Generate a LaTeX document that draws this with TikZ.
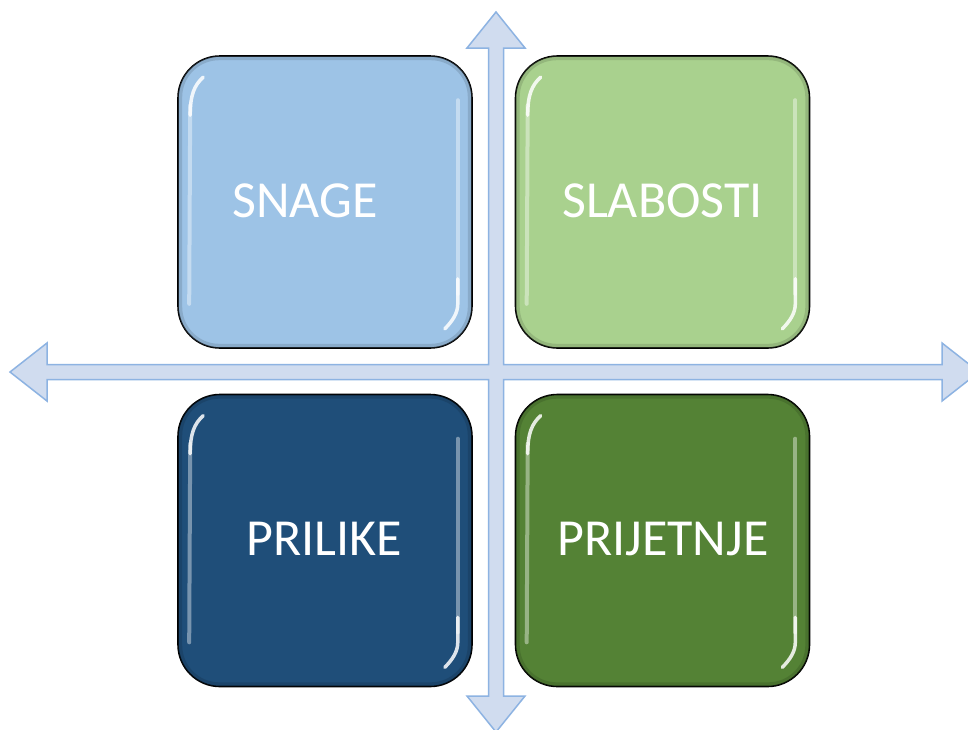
\documentclass[tikz,border=0pt]{standalone}
\usepackage{fontspec}
\setmainfont{Carlito}
\usetikzlibrary{calc}
\definecolor{snagec}{HTML}{9DC3E6}
\definecolor{slabc}{HTML}{A9D18E}
\definecolor{prilc}{HTML}{1F4E79}
\definecolor{prijc}{HTML}{548235}
\definecolor{crossfill}{HTML}{D0DCEF}
\definecolor{crossline}{HTML}{8DB3E2}
\tikzset{
  quad/.style={draw=black, line width=1.6pt, rounded corners=42pt,
    minimum width=294pt, minimum height=292pt, inner sep=0pt},
  lbl/.style={text=white, font=\fontsize{52}{60}\selectfont, inner sep=0pt},
  shine/.style={draw=white, line width=4pt, line cap=round, opacity=0.4},
  glint/.style={draw=white, line width=3.5pt, line cap=round, opacity=0.85},
  rim/.style={line width=4pt, opacity=0.3, rounded corners=39pt},
  crossarrow/.style={fill=crossfill, draw=crossline, line width=1.5pt, line join=miter}
}
\begin{document}
\begin{tikzpicture}[x=1pt, y=-1pt]
\useasboundingbox (0,0) rectangle (968,729);
\clip (0,0) rectangle (968,729);
\fill[white] (0,0) rectangle (968,729);
% cross of arrows
\draw[crossarrow] (496,12) -- (525,48) -- (503.5,48) -- (503.5,364.5) -- (942,364.5) -- (942,343)
  -- (979,372) -- (942,401) -- (942,379.5) -- (503.5,379.5) -- (503.5,696) -- (525,696)
  -- (496,732) -- (467,696) -- (488.5,696) -- (488.5,379.5) -- (47,379.5) -- (47,401)
  -- (10,372) -- (47,343) -- (47,364.5) -- (488.5,364.5) -- (488.5,48) -- (467,48) -- cycle;
% boxes
\node[quad, fill=snagec] (snage) at (325,202) {};
\node[quad, fill=slabc] (slab) at (662.5,202) {};
\node[quad, fill=prilc] (pril) at (325,540.5) {};
\node[quad, fill=prijc] (prij) at (662.5,540.5) {};
% rims and highlights
\foreach \b/\c in {snage/snagec, slab/slabc, pril/prilc, prij/prijc}{
  \draw[rim, draw=\c!60!black] ($(\b.north west)+(3,3)$) rectangle ($(\b.south east)+(-3,-3)$);
  \draw[shine] ($(\b.north west)+(13,50)$) -- ($(\b.south west)+(12,-45)$);
  \draw[glint] ($(\b.north west)+(26,22)$) .. controls ($(\b.north west)+(17,30)$) and ($(\b.north west)+(13,40)$) .. ($(\b.north west)+(13,60)$);
  \draw[shine] ($(\b.north east)+(-15,45)$) -- ($(\b.south east)+(-15,-55)$);
  \draw[glint] ($(\b.south east)+(-15,-70)$) -- ($(\b.south east)+(-15,-45)$) .. controls ($(\b.south east)+(-15,-36)$) and ($(\b.south east)+(-20,-28)$) .. ($(\b.south east)+(-28,-20)$);
}
% labels
\node[lbl] (tsnage) at (305,201) {SNAGE};
\node[lbl] (tslab) at (662.5,201) {SLABOSTI};
\node[lbl] (tpril) at (324.5,539) {PRILIKE};
\node[lbl] (tprij) at (663,539) {PRIJETNJE};
\end{tikzpicture}
\end{document}
